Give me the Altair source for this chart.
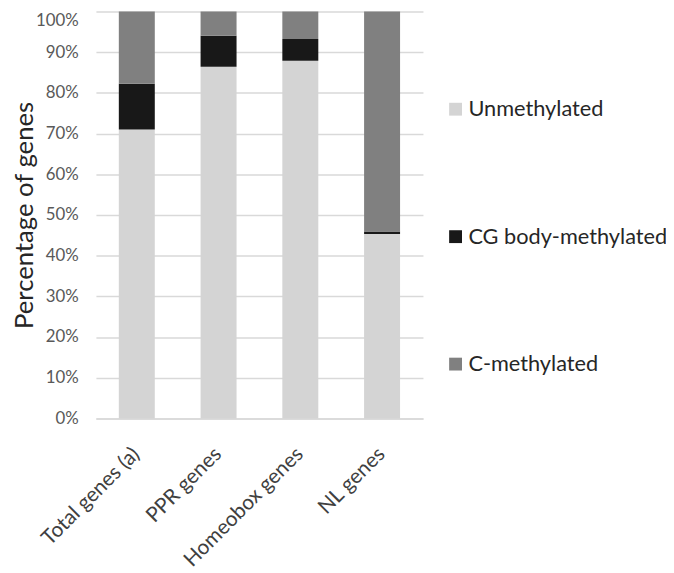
import altair as alt
import pandas as pd

categories = ["Total genes (a)", "PPR genes", "Homeobox genes", "NL genes"]
series = ["Unmethylated", "CG body-methylated", "C-methylated"]
unmethylated = [0.710, 0.864, 0.879, 0.453]
cg_body = [0.112, 0.076, 0.053, 0.006]
c_methylated = [0.178, 0.060, 0.068, 0.541]
colors = ["#d4d4d4", "#181818", "#808080"]

rows = []
for i, cat in enumerate(categories):
    for j, (name, vals) in enumerate(zip(series, [unmethylated, cg_body, c_methylated])):
        rows.append({"category": cat, "series": name, "value": vals[i], "order": j})
df = pd.DataFrame(rows)

FONT = "Lato"

chart = alt.Chart(df).mark_bar().encode(
    x=alt.X("category:N", sort=categories, title=None,
            scale=alt.Scale(paddingInner=0.56, paddingOuter=0.28),
            axis=alt.Axis(labelAngle=-45, labelAlign="right", labelBaseline="top",
                          labelPadding=25, labelOffset=-8, labelFontSize=21, labelFont=FONT,
                          labelColor="#404040", ticks=False, domainColor="#d9d9d9",
                          domainWidth=1.5, grid=False, labelLimit=300)),
    y=alt.Y("value:Q", stack="zero", title="Percentage of genes",
            scale=alt.Scale(domain=[0, 1], nice=False),
            axis=alt.Axis(format=".0%", values=[i / 10 for i in range(11)],
                          labelFontSize=17, labelFont=FONT, labelColor="#595959",
                          labelPadding=18, ticks=False, domain=False,
                          labelOffset={"condition": {"test": "datum.value >= 1", "value": 9},
                                       "value": 0},
                          gridColor="#d9d9d9", gridWidth=1.5,
                          titleFontSize=26, titleFont=FONT, titleFontWeight="normal",
                          titleColor="#262626", titleX=-72, titleY=206,
                          titleAlign="center", titleBaseline="middle", titleAngle=270)),
    color=alt.Color("series:N", sort=series,
                    scale=alt.Scale(domain=series, range=colors),
                    legend=alt.Legend(title=None, orient="none", legendX=353, legendY=88,
                                      symbolType="square", symbolSize=169,
                                      symbolStrokeWidth=0, labelFontSize=22,
                                      labelFont=FONT, labelColor="#262626",
                                      rowPadding=107, labelOffset=2, labelLimit=300)),
    order=alt.Order("order:Q", sort="ascending"),
).properties(
    width=331, height=412,
    autosize=alt.AutoSizeParams(type="none"),
    padding={"left": 89, "top": 0, "right": 246, "bottom": 153},
).configure_view(stroke=None)

chart.save("out.html", embed_options={"renderer": "svg", "actions": False})
